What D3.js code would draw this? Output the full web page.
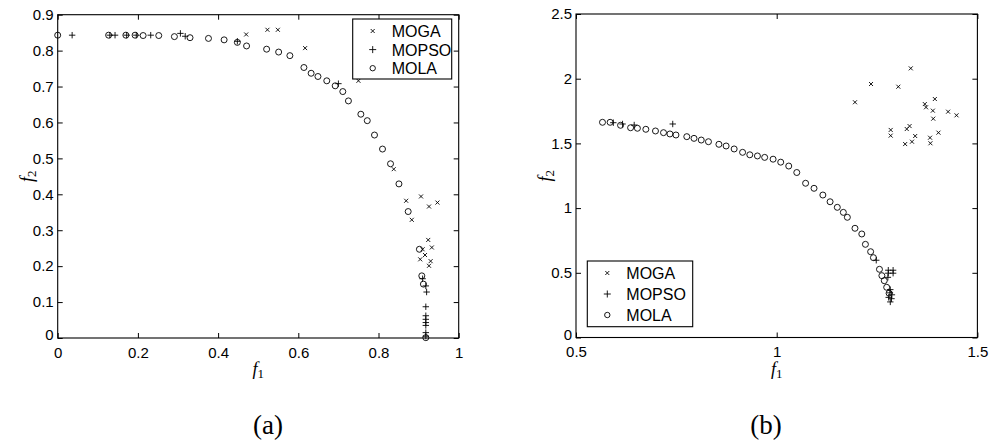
<!DOCTYPE html>
<meta charset="utf-8">
<html>
<head>
  <title>MOGA / MOPSO / MOLA fronts</title>
  <style>
    body { margin: 0; background: #fff; }
    svg { font-family: "Liberation Sans", Arial, sans-serif; }
    .frame { fill: none; stroke: #000; stroke-width: 1.1px; }
    .mark { fill: none; stroke: #000; stroke-width: 0.9px; }
    .axis text { font-size: 15px; fill: #000; }
    .axis line { stroke: #000; stroke-width: 1px; }
    .axis-name { font-family: "Liberation Serif", "Times New Roman", serif; font-size: 18px; }
    .caption { font-family: "Liberation Serif", "Times New Roman", serif; font-size: 27px; }
    .legend text { font-size: 16px; }
  </style>
  <script src="https://d3js.org/d3.v7.min.js"></script>
</head>
<body>
<svg width="990" height="445"></svg>
<script>
  // ---- data: [f1, f2] pairs ----
  var seriesNames = ["MOGA", "MOPSO", "MOLA"];

  // panel (a)
  var mogaA = [[0.470,0.845],[0.523,0.858],[0.549,0.858],[0.617,0.807],[0.750,0.716],[0.838,0.470],
    [0.869,0.382],[0.906,0.394],[0.926,0.366],[0.947,0.377],[0.883,0.329],[0.924,0.273],[0.933,0.252],
    [0.910,0.247],[0.916,0.231],[0.904,0.219],[0.930,0.214],[0.926,0.201]];
  var mopsoA = [[0.036,0.843],[0.130,0.843],[0.143,0.843],[0.172,0.843],[0.196,0.843],[0.232,0.843],
    [0.306,0.848],[0.318,0.840],[0.448,0.826],[0.700,0.708],[0.910,0.165],[0.918,0.145],[0.920,0.128],
    [0.918,0.087],[0.918,0.062],[0.918,0.052],[0.918,0.043],[0.918,0.035],[0.918,0.015],[0.918,0.005]];
  var molaA = [[0.000,0.843],[0.127,0.843],[0.170,0.843],[0.193,0.843],[0.213,0.842],[0.252,0.842],
    [0.291,0.839],[0.330,0.836],[0.376,0.834],[0.415,0.830],[0.448,0.823],[0.471,0.813],[0.521,0.804],
    [0.551,0.796],[0.579,0.786],[0.614,0.753],[0.632,0.737],[0.649,0.728],[0.671,0.716],[0.692,0.702],
    [0.711,0.686],[0.725,0.660],[0.756,0.623],[0.772,0.605],[0.790,0.565],[0.810,0.526],[0.830,0.485],
    [0.851,0.429],[0.874,0.352],[0.902,0.247],[0.908,0.173],[0.912,0.150],[0.918,0.001]];

  // panel (b)
  var mogaB = [[1.195,1.818],[1.235,1.959],[1.303,1.938],[1.334,2.080],[1.369,1.804],[1.372,1.779],
    [1.394,1.843],[1.389,1.753],[1.390,1.691],[1.427,1.745],[1.448,1.717],[1.284,1.604],[1.284,1.560],
    [1.324,1.611],[1.331,1.634],[1.345,1.557],[1.320,1.495],[1.337,1.513],[1.382,1.544],[1.383,1.501],
    [1.403,1.583]];
  var mopsoB = [[0.593,1.660],[0.616,1.650],[0.645,1.642],[0.741,1.650],[1.248,0.597],[1.278,0.520],
    [1.290,0.520],[1.278,0.497],[1.290,0.497],[1.277,0.465],[1.283,0.370],[1.282,0.345],[1.287,0.330],
    [1.279,0.310],[1.286,0.300],[1.283,0.275]];
  var molaB = [[0.566,1.663],[0.585,1.663],[0.611,1.640],[0.636,1.621],[0.653,1.617],[0.674,1.609],
    [0.698,1.596],[0.718,1.583],[0.734,1.573],[0.749,1.565],[0.776,1.552],[0.794,1.539],[0.812,1.526],
    [0.830,1.513],[0.856,1.493],[0.874,1.480],[0.894,1.457],[0.915,1.431],[0.933,1.412],[0.952,1.403],
    [0.970,1.392],[0.991,1.378],[1.010,1.355],[1.030,1.325],[1.050,1.275],[1.072,1.192],[1.093,1.153],
    [1.115,1.101],[1.133,1.049],[1.151,1.006],[1.166,0.967],[1.176,0.929],[1.195,0.844],[1.212,0.800],
    [1.221,0.720],[1.234,0.663],[1.241,0.617],[1.256,0.527],[1.262,0.478],[1.268,0.439],[1.274,0.388],
    [1.280,0.342]];

  // tick labels
  var xTicksA = [0, 0.2, 0.4, 0.6, 0.8, 1];
  var yTicksA = [0, 0.1, 0.2, 0.3, 0.4, 0.5, 0.6, 0.7, 0.8, 0.9];
  var xTicksB = [0.5, 1, 1.5];
  var yTicksB = [0, 0.5, 1, 1.5, 2, 2.5];

  var svg = d3.select("svg");

  // marker shapes, one per series
  function markerPath(type, s) {
    if (type === "MOGA") return "M" + (-s) + "," + (-s) + "L" + s + "," + s + "M" + (-s) + "," + s + "L" + s + "," + (-s);
    if (type === "MOPSO") return "M" + (-s) + ",0H" + s + "M0," + (-s) + "V" + s;
    return null;
  }
  function addMarker(g, type, px, py) {
    if (type === "MOLA") {
      g.append("circle").attr("class", "mark").attr("cx", px).attr("cy", py).attr("r", 3);
    } else {
      g.append("path").attr("class", "mark")
        .attr("transform", "translate(" + px + "," + py + ")")
        .attr("d", markerPath(type, type === "MOGA" ? 2 : 3.2));
    }
  }

  var fmt = function(d) { return String(+d.toFixed(2)); };

  function drawPanel(p) {
    var x = d3.scaleLinear().domain(p.xDomain).range([p.left, p.right]);
    var y = d3.scaleLinear().domain(p.yDomain).range([p.bottom, p.top]);
    var g = svg.append("g");

    // ticks on all four sides, pointing inward (matlab style)
    g.append("g").attr("class", "axis")
      .attr("transform", "translate(0," + p.bottom + ")")
      .call(d3.axisBottom(x).tickValues(p.xTicks).tickFormat(fmt).tickSize(-5).tickPadding(9))
      .call(function(a) { a.select(".domain").remove(); });
    g.append("g").attr("class", "axis")
      .attr("transform", "translate(0," + p.top + ")")
      .call(d3.axisTop(x).tickValues(p.xTicks).tickFormat("").tickSize(-5))
      .call(function(a) { a.select(".domain").remove(); });
    g.append("g").attr("class", "axis")
      .attr("transform", "translate(" + p.left + ",0)")
      .call(d3.axisLeft(y).tickValues(p.yTicks).tickFormat(fmt).tickSize(-5).tickPadding(4))
      .call(function(a) {
        a.select(".domain").remove();
        // the zero label sits just above the corner, clear of the x labels
        a.selectAll(".tick text").filter(function(d) { return d === 0; }).attr("dy", "0.1em");
      });
    g.append("g").attr("class", "axis")
      .attr("transform", "translate(" + p.right + ",0)")
      .call(d3.axisRight(y).tickValues(p.yTicks).tickFormat("").tickSize(-5))
      .call(function(a) { a.select(".domain").remove(); });

    g.append("rect").attr("class", "frame")
      .attr("x", p.left).attr("y", p.top)
      .attr("width", p.right - p.left).attr("height", p.bottom - p.top);

    // points, MOLA drawn first so the others sit on top
    [["MOLA", p.mola], ["MOGA", p.moga], ["MOPSO", p.mopso]].forEach(function(s) {
      s[1].forEach(function(d) { addMarker(g, s[0], x(d[0]), y(d[1])); });
    });

    // legend
    var lg = g.append("g").attr("class", "legend");
    lg.append("rect").attr("x", p.legend.x).attr("y", p.legend.y)
      .attr("width", p.legend.w).attr("height", p.legend.h)
      .attr("fill", "#fff").attr("stroke", "#000").attr("stroke-width", 1.1);
    seriesNames.forEach(function(name, i) {
      var cy = p.legend.y + 12 + i * p.legend.step;
      if (name === "MOLA") {
        lg.append("circle").attr("class", "mark").attr("cx", p.legend.x + 20).attr("cy", cy).attr("r", 2.7);
      } else {
        lg.append("path").attr("class", "mark")
          .attr("transform", "translate(" + (p.legend.x + 20) + "," + cy + ")")
          .attr("d", markerPath(name, name === "MOGA" ? 2 : 3.5));
      }
      lg.append("text").attr("x", p.legend.x + 39).attr("y", cy + 6).text(name);
    });

    // axis names
    var cx = (p.left + p.right) / 2;
    var f1 = g.append("text").attr("class", "axis-name")
      .attr("x", cx).attr("y", 375).attr("text-anchor", "middle");
    f1.append("tspan").attr("font-style", "italic").text("f");
    f1.append("tspan").attr("font-size", "13px").attr("dy", 3).text("1");

    var f2 = g.append("text").attr("class", "axis-name")
      .attr("transform", "translate(" + (p.left - 25) + "," + ((p.top + p.bottom) / 2) + ") rotate(-90)")
      .attr("text-anchor", "middle");
    f2.append("tspan").attr("font-style", "italic").text("f");
    f2.append("tspan").attr("font-size", "13px").attr("dy", 3).text("2");

    g.append("text").attr("class", "caption")
      .attr("x", p.captionX).attr("y", 434).attr("text-anchor", "middle").text(p.caption);
  }

  drawPanel({
    left: 57.7, right: 458.7, top: 14.7, bottom: 338,
    xDomain: [0, 1], yDomain: [0, 0.9], xTicks: xTicksA, yTicks: yTicksA,
    moga: mogaA, mopso: mopsoA, mola: molaA,
    legend: { x: 352.7, y: 19, w: 99, h: 60, step: 18.6 },
    caption: "(a)", captionX: 268
  });

  drawPanel({
    left: 576, right: 977.4, top: 14, bottom: 337.5,
    xDomain: [0.5, 1.5], yDomain: [0, 2.5], xTicks: xTicksB, yTicks: yTicksB,
    moga: mogaB, mopso: mopsoB, mola: molaB,
    legend: { x: 587.3, y: 261, w: 105.4, h: 65.7, step: 21 },
    caption: "(b)", captionX: 766
  });
</script>
</body>
</html>
